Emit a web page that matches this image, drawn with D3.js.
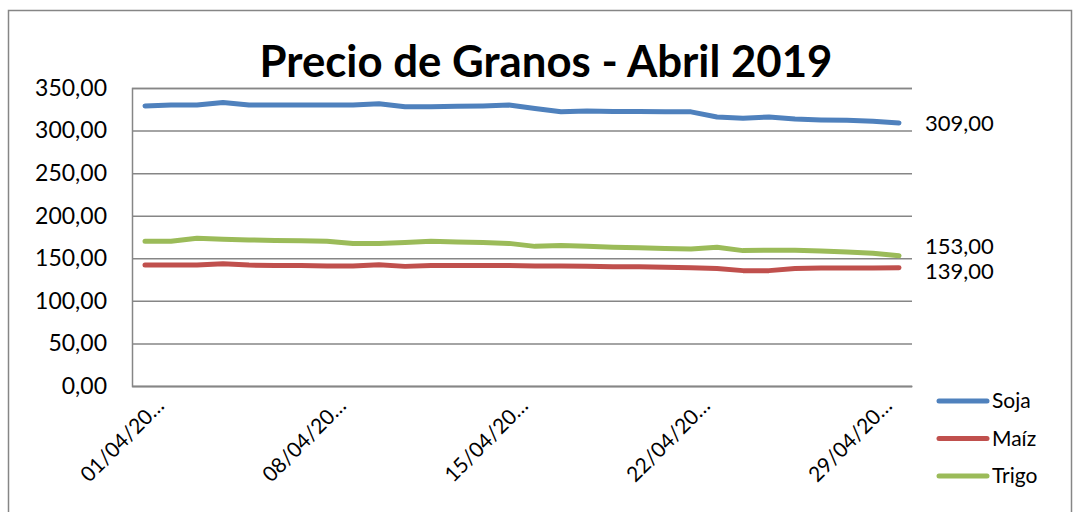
<!DOCTYPE html>
<html>
<head>
<meta charset="utf-8">
<script src="https://cdn.jsdelivr.net/npm/d3@7"></script>
<style>
  body { margin: 0; background: #fff; }
  text { font-family: Lato, "Open Sans", sans-serif; fill: #000; }
</style>
</head>
<body>
<div id="container"></div>
<script>
// datos del grafico
const fechas = ["01/04/2019","02/04/2019","03/04/2019","04/04/2019","05/04/2019","06/04/2019","07/04/2019",
  "08/04/2019","09/04/2019","10/04/2019","11/04/2019","12/04/2019","13/04/2019","14/04/2019",
  "15/04/2019","16/04/2019","17/04/2019","18/04/2019","19/04/2019","20/04/2019","21/04/2019",
  "22/04/2019","23/04/2019","24/04/2019","25/04/2019","26/04/2019","27/04/2019","28/04/2019",
  "29/04/2019","30/04/2019"];
const soja = [329,330,330,333,330,330,330,330,330,331.5,328,328,328.5,329,330,326,322,323,322.5,322.5,
  322,322,316,314.5,316,313.5,312.5,312,311,309];
const maiz = [142,142,142,143.5,142,141.5,141.5,141,141,142.5,140.5,141.5,141.5,141.5,141.5,141,141,140.5,140,140,
  139.5,139,138,135.5,135.5,138,138.5,138.5,138.5,139];
const trigo = [170,170,173.5,172.5,171.5,171,170.5,170,167.5,167.5,168.5,170,169,168.5,167.5,164,165,164,163,162.5,
  161.5,161,163,159,159.5,159.5,158.5,157.5,156,153];
const series = ["Soja","Maíz","Trigo"];
const colores = ["#4f81bd","#c0504d","#9bbb59"];
const yTicks = [0,50,100,150,200,250,300,350];
const xTickFechas = ["01/04/2019","08/04/2019","15/04/2019","22/04/2019","29/04/2019"];

const w = 1074, h = 512;
const mLeft = 132, mRight = 912, mTop = 88, mBottom = 386;

const svg = d3.select("#container").append("svg")
  .attr("width", w).attr("height", h);

// marco exterior
svg.append("rect")
  .attr("x", 8.5).attr("y", 10.5).attr("width", 1063).attr("height", 520)
  .attr("fill", "none").attr("stroke", "#868686").attr("stroke-width", 1.5);

const x = d3.scalePoint().domain(fechas).range([mLeft, mRight]).padding(0.5);
const y = d3.scaleLinear().domain([0, 350]).range([mBottom, mTop]);

// titulo
svg.append("text")
  .attr("x", 546).attr("y", 77)
  .attr("text-anchor", "middle")
  .attr("font-weight", "bold")
  .attr("font-size", 44)
  .attr("textLength", 573)
  .attr("lengthAdjust", "spacingAndGlyphs")
  .text("Precio de Granos - Abril 2019");

// grilla y eje y
const yAxis = d3.axisLeft(y).tickValues(yTicks)
  .tickSize(-(mRight - mLeft))
  .tickFormat(d => d3.format(".2f")(d).replace(".", ","));
const gy = svg.append("g").attr("transform", "translate(" + mLeft + ",0)").call(yAxis);
gy.select(".domain").attr("stroke", "#868686").attr("stroke-width", 1.5);
gy.selectAll(".tick line").attr("stroke", "#868686").attr("stroke-width", 1.5);
gy.selectAll(".tick text")
  .attr("x", -25)
  .attr("font-size", 23)
  .attr("font-family", "Lato, sans-serif");

// eje x
const xAxis = d3.axisBottom(x).tickValues(xTickFechas).tickSize(0)
  .tickFormat(d => d.slice(0, 8) + "…");
const gx = svg.append("g").attr("transform", "translate(0," + mBottom + ")").call(xAxis);
gx.select(".domain").attr("stroke", "#868686").attr("stroke-width", 1.5);
gx.selectAll(".tick text")
  .attr("font-size", 21)
  .attr("font-family", "Lato, sans-serif")
  .attr("text-anchor", "end")
  .attr("dy", 0)
  .attr("y", 0)
  .attr("transform", "translate(20,21) rotate(-45)");

// lineas
const datos = [soja, maiz, trigo];
const line = d3.line()
  .x((d, i) => x(fechas[i]))
  .y(d => y(d));

datos.forEach((serie, k) => {
  svg.append("path")
    .datum(serie)
    .attr("fill", "none")
    .attr("stroke", colores[k])
    .attr("stroke-width", 5)
    .attr("stroke-linecap", "round")
    .attr("stroke-linejoin", "round")
    .attr("d", line);
});

// etiquetas del ultimo valor
const ajuste = [0, 4, -9];
datos.forEach((serie, k) => {
  const v = serie[serie.length - 1];
  svg.append("text")
    .attr("x", 925)
    .attr("y", y(v) + ajuste[k])
    .attr("dy", "0.35em")
    .attr("font-size", 22)
    .text(d3.format(".2f")(v).replace(".", ","));
});

// leyenda
const leg = svg.append("g");
series.forEach((s, k) => {
  const ly = 401 + k * 37.5;
  leg.append("line")
    .attr("x1", 939).attr("x2", 987)
    .attr("y1", ly).attr("y2", ly)
    .attr("stroke", colores[k]).attr("stroke-width", 5)
    .attr("stroke-linecap", "round");
  leg.append("text")
    .attr("x", 992).attr("y", ly).attr("dy", "0.35em")
    .attr("font-size", 21)
    .text(s);
});
</script>
</body>
</html>
